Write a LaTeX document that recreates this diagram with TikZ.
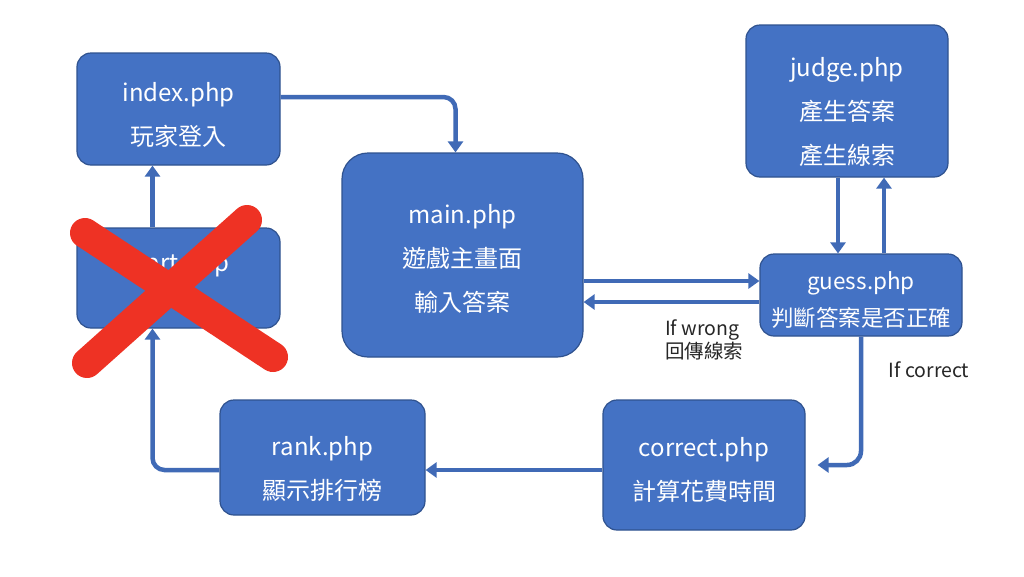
\documentclass[tikz,border=0pt]{standalone}
\usepackage{fontspec}
\setmainfont{Noto Sans CJK TC}
\usepackage{xcolor}
\usetikzlibrary{
    arrows.meta,
    positioning
}

\definecolor{boxblue}{RGB}{68,114,196}
\definecolor{boxedge}{RGB}{47,82,143}
\definecolor{arrowblue}{RGB}{64,106,182}
\definecolor{crossred}{RGB}{238,50,36}

% extra room above the first line, pushes the text down a little
\newcommand{\pushdown}[1]{\rule{0pt}{#1}}

\begin{document}
\begin{tikzpicture}[
x=1pt, y=-1pt,
box/.style={
draw=boxedge,
line width=1.2pt,
fill=boxblue,
rounded corners=14pt,
align=center,
text=white,
font=\fontsize{24}{44}\selectfont
},
flow/.style={
draw=arrowblue,
line width=4.5pt,
-{Triangle[width=15pt,length=11pt]}
},
note/.style={
align=left,
text=black!85,
font=\fontsize{19.5}{21}\selectfont
},
redx/.style={
draw=crossred,
line width=30pt,
line cap=round
}
]

\fill[white] (0,0) rectangle (1024,576);
\useasboundingbox (0,0) rectangle (1024,576);

\node[box, minimum width=203pt, minimum height=112pt] (index)
at (178.5,109) {\pushdown{30pt}index.php\\玩家登入};

\node[box, minimum width=203pt, minimum height=100pt] (start)
at (178.5,278) {\pushdown{30pt}start.php\\\mbox{}};

\node[box, rounded corners=26pt,
minimum width=241pt, minimum height=204pt] (main)
at (462.5,255) {\pushdown{26pt}main.php\\遊戲主畫面\\輸入答案};

\node[box, minimum width=202pt, minimum height=152pt] (judge)
at (847,101) {\pushdown{42pt}judge.php\\產生答案\\產生線索};

\node[box, font=\fontsize{22.5}{37}\selectfont,
minimum width=202pt, minimum height=82pt] (guess)
at (861,295) {\pushdown{28pt}guess.php\\判斷答案是否正確};

\node[box, minimum width=202pt, minimum height=130pt] (correct)
at (704,465) {\pushdown{30pt}correct.php\\計算花費時間};

\node[box, minimum width=205pt, minimum height=115pt] (rank)
at (322.5,457.5) {\pushdown{42pt}rank.php\\顯示排行榜};

\node[note] (wrong) at (704,340) {If wrong\\回傳線索};
\node[note] (right) at (929,370) {If correct};

\draw[flow, rounded corners=12pt]
([yshift=12pt]index.east) -| ([xshift=-7pt]main.north);

\draw[flow]
([xshift=-26pt]start.north) -- ([xshift=-26pt]index.south);

\draw[flow, rounded corners=12pt]
([yshift=-12.5pt]rank.west) -| ([xshift=-26pt]start.south);

\draw[flow]
([yshift=-26pt]main.east) -- ([yshift=-26pt]main.east -| guess.west);

\draw[flow]
([yshift=-7pt]guess.west) -- ([yshift=-7pt]guess.west -| main.east);

\draw[flow]
([xshift=-9pt]judge.south) -- ([xshift=-9pt]judge.south |- guess.north);

\draw[flow]
([xshift=37pt]judge.south |- guess.north) -- ([xshift=37pt]judge.south);

\draw[flow, rounded corners=14pt, shorten >=12pt]
(guess.south) |- (correct.east);

\draw[flow]
([yshift=-5pt]correct.west) -- ([yshift=-5pt]correct.west -| rank.east);

% crossed out page
\draw[redx] (85,233) -- (273,357);
\draw[redx] (247,220) -- (87,363);

\end{tikzpicture}
\end{document}
